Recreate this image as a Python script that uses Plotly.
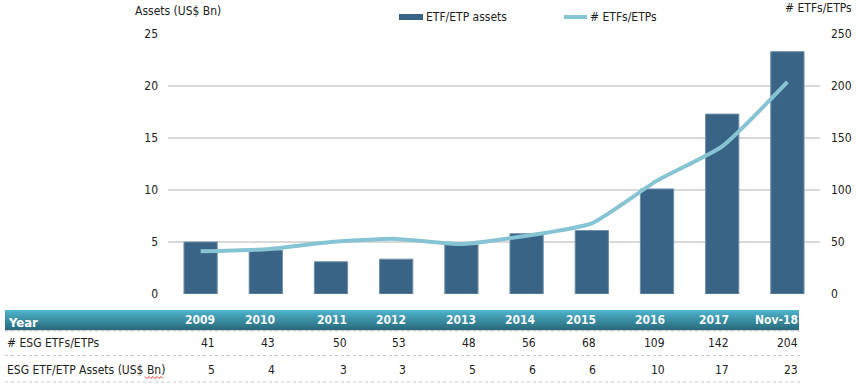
import plotly.graph_objects as go

years = ["2009", "2010", "2011", "2012", "2013", "2014", "2015", "2016", "2017", "Nov-18"]
assets_bn = [5.0, 4.2, 3.1, 3.35, 4.8, 5.8, 6.1, 10.1, 17.3, 23.3]
num_etfs = [41, 43, 50, 53, 48, 56, 68, 109, 142, 204]
assets_table = [5, 4, 3, 3, 5, 6, 6, 10, 17, 23]
left_ticks = [0, 5, 10, 15, 20, 25]
right_ticks = [0, 50, 100, 150, 200, 250]
row_labels = ["# ESG ETFs/ETPs", "ESG ETF/ETP Assets (US$ Bn)"]

W, H = 856, 384
L, R, T, B = 168, 36, 34, 90
PW, PH = W - L - R, H - T - B

def px(x):
    return (x - L) / PW

def py(y):
    return (H - B - y) / PH

FONT = "DejaVu Sans Condensed, Liberation Sans, sans-serif"
TXT = "#222222"
BAR = "#3a6486"
LINE = "#86c4d4"

fig = go.Figure()
fig.add_trace(go.Bar(x=years, y=assets_bn, marker=dict(color=BAR, line=dict(color="#6f8fa8", width=1)),
                     name="ETF/ETP assets", yaxis="y"))
fig.add_trace(go.Scatter(x=years, y=num_etfs, mode="lines", line=dict(color=LINE, width=4, shape="spline", smoothing=0.5),
                         name="# ETFs/ETPs", yaxis="y2"))

fig.update_layout(
    width=W, height=H, margin=dict(l=L, r=R, t=T, b=B, autoexpand=False),
    paper_bgcolor="white", plot_bgcolor="white", showlegend=False,
    bargap=0.49, font=dict(family=FONT, size=11, color=TXT),
    xaxis=dict(showticklabels=False, showgrid=False, zeroline=False, showline=False, automargin=False),
    yaxis=dict(range=[0, 25], tickvals=left_ticks, showgrid=True, gridcolor="#d9d9d9", gridwidth=1.5,
               zeroline=False, ticks="", ticklabelstandoff=9, tickfont=dict(size=12), automargin=False),
    yaxis2=dict(range=[0, 250], tickvals=right_ticks, overlaying="y", side="right", showgrid=False,
                zeroline=False, ticks="", ticklabelstandoff=10, tickfont=dict(size=12), automargin=False),
)

shapes = []
ann = []

# axis titles
ann.append(dict(x=px(133), y=py(11), xref="paper", yref="paper", text="Assets (US$ Bn)", showarrow=False,
                xanchor="left", yanchor="middle", font=dict(size=12)))
ann.append(dict(x=px(854), y=py(8), xref="paper", yref="paper", text="# ETFs/ETPs", showarrow=False,
                xanchor="right", yanchor="middle", font=dict(size=12)))

# legend
shapes.append(dict(type="rect", xref="paper", yref="paper", x0=px(399), x1=px(423), y0=py(14), y1=py(20),
                   fillcolor=BAR, line=dict(width=0)))
ann.append(dict(x=px(424), y=py(17), xref="paper", yref="paper", text="ETF/ETP assets", showarrow=False,
                xanchor="left", yanchor="middle", font=dict(size=12)))
shapes.append(dict(type="line", xref="paper", yref="paper", x0=px(564), x1=px(587), y0=py(17), y1=py(17),
                   line=dict(color=LINE, width=4)))
ann.append(dict(x=px(588), y=py(17), xref="paper", yref="paper", text="# ETFs/ETPs", showarrow=False,
                xanchor="left", yanchor="middle", font=dict(size=12)))

# table header gradient band
top, bot = 310, 330
n = 20
c0 = (78, 180, 204)
c1 = (42, 106, 124)
for i in range(n):
    t = i / (n - 1)
    c = tuple(int(c0[k] + (c1[k] - c0[k]) * t) for k in range(3))
    y0 = top + (bot - top) * i / n
    y1 = top + (bot - top) * (i + 1) / n
    shapes.append(dict(type="rect", xref="paper", yref="paper", x0=px(5), x1=px(799), y0=py(y0), y1=py(y1 + 0.3),
                       fillcolor="rgb(%d,%d,%d)" % c, line=dict(width=0), layer="below"))

# separators
for yy in [331, 355.5, 382]:
    shapes.append(dict(type="line", xref="paper", yref="paper", x0=px(5), x1=px(800), y0=py(yy), y1=py(yy),
                       line=dict(color="#c8c8c8", width=1, dash="dot")))

col_right = [217, 277, 349, 408, 478, 538, 598, 667, 731, 800]

ann.append(dict(x=px(6), y=py(322), xref="paper", yref="paper", text="<b>Year</b>", showarrow=False,
                xanchor="left", yanchor="middle", font=dict(size=13, color="white")))
for i, yr in enumerate(years):
    ann.append(dict(x=px(col_right[i]), y=py(320), xref="paper", yref="paper", text="<b>%s</b>" % yr,
                    showarrow=False, xanchor="right", yanchor="middle", font=dict(size=12, color="#f4f8fa")))
    ann.append(dict(x=px(col_right[i]), y=py(343), xref="paper", yref="paper", text=str(num_etfs[i]),
                    showarrow=False, xanchor="right", yanchor="middle", font=dict(size=12)))
    ann.append(dict(x=px(col_right[i]), y=py(369.5), xref="paper", yref="paper", text=str(assets_table[i]),
                    showarrow=False, xanchor="right", yanchor="middle", font=dict(size=12)))

ann.append(dict(x=px(5), y=py(343), xref="paper", yref="paper", text=row_labels[0], showarrow=False,
                xanchor="left", yanchor="middle", font=dict(size=12)))
ann.append(dict(x=px(5), y=py(369.5), xref="paper", yref="paper", text=row_labels[1], showarrow=False,
                xanchor="left", yanchor="middle", font=dict(size=12)))

# spell-check squiggle under "Bn"
pts = []
xs = 145
k = 0
while xs <= 163:
    yv = 376.5 if k % 2 == 0 else 378.5
    pts.append((px(xs), py(yv)))
    xs += 2
    k += 1
path = "M " + " L ".join("%f,%f" % p for p in pts)
shapes.append(dict(type="path", xref="paper", yref="paper", path=path, line=dict(color="#e04040", width=1)))

fig.update_layout(shapes=shapes, annotations=ann)
fig.write_html("out.html", config={"displayModeBar": False},
               post_script="document.body.style.margin='0';document.body.style.overflow='hidden';")
